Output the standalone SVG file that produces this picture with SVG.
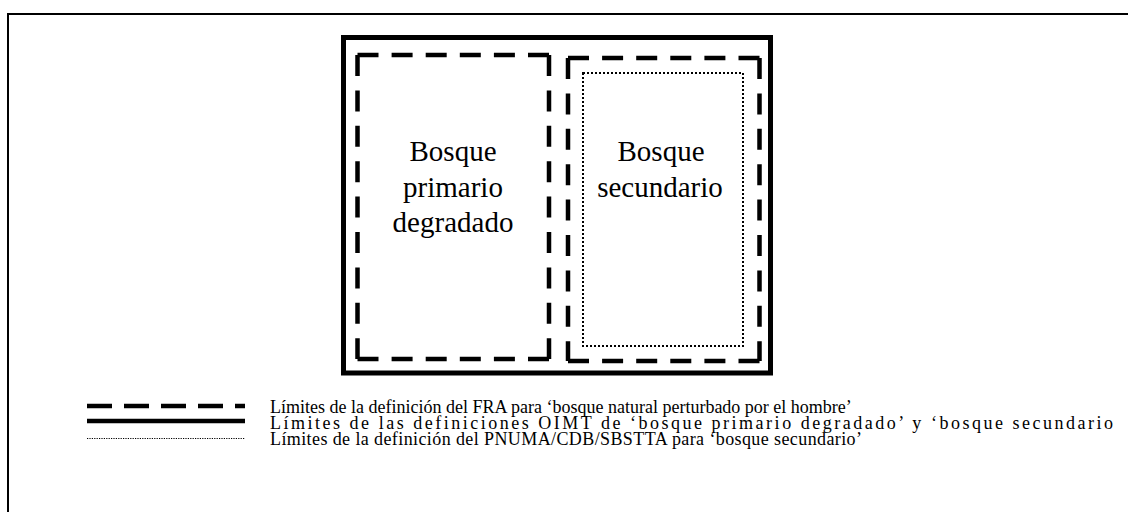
<svg xmlns="http://www.w3.org/2000/svg" width="1128" height="512" viewBox="0 0 1128 512">
<style>
.big{font-family:"Liberation Serif","Times New Roman",serif;font-size:29px;fill:#000;text-anchor:middle}
.leg{font-family:"Liberation Serif","Times New Roman",serif;font-size:18px;fill:#000}
.dh{fill:none;stroke:#000;stroke-width:4.5;stroke-dasharray:21 13.1}
.dv{fill:none;stroke:#000;stroke-width:4.5;stroke-dasharray:21 14.4}
.dot{fill:none;stroke:#000;stroke-width:2;stroke-dasharray:2 2}
</style>
<rect x="0" y="0" width="1128" height="512" fill="#fff"/>
<rect id="frame" x="8" y="14" width="1130" height="510" fill="none" stroke="#000" stroke-width="2"/>
<g id="itto">
<rect x="343.5" y="37.5" width="427" height="335.5" fill="none" stroke="#000" stroke-width="5"/>
</g>
<g id="degradado">
<path class="dh" d="M357.5 55 H549"/>
<path class="dh" d="M357.5 359 H549"/>
<path class="dv" d="M357.5 55 V359"/>
<path class="dv" d="M549 55 V359"/>
<text class="big" x="453" y="161">Bosque</text>
<text class="big" x="453" y="197">primario</text>
<text class="big" x="453" y="232">degradado</text>
</g>
<g id="secundario">
<path class="dh" d="M568 58 H759.5"/>
<path class="dh" d="M568 361 H759.5"/>
<path class="dv" d="M568 58 V361"/>
<path class="dv" d="M759.5 58 V361"/>
<rect class="dot" x="583" y="73" width="160" height="273"/>
<text class="big" x="661" y="161">Bosque</text>
<text class="big" x="660" y="197">secundario</text>
</g>
<g id="legend">
<path d="M87 406 H245" fill="none" stroke="#000" stroke-width="4.5" stroke-dasharray="25 12"/>
<path d="M87 421 H245" fill="none" stroke="#000" stroke-width="4.5"/>
<path d="M87 438.5 H245" fill="none" stroke="#000" stroke-width="1.2" stroke-dasharray="1.2 1.2"/>
<text class="leg" x="270" y="413">Límites de la definición del FRA para ‘bosque natural perturbado por el hombre’</text>
<text class="leg" x="270" y="429" textLength="843" lengthAdjust="spacing">Límites de las definiciones OIMT de ‘bosque primario degradado’ y ‘bosque secundario</text>
<text class="leg" x="270" y="445" textLength="592" lengthAdjust="spacing">Límites de la definición del PNUMA/CDB/SBSTTA para ‘bosque secundario’</text>
</g>
</svg>
